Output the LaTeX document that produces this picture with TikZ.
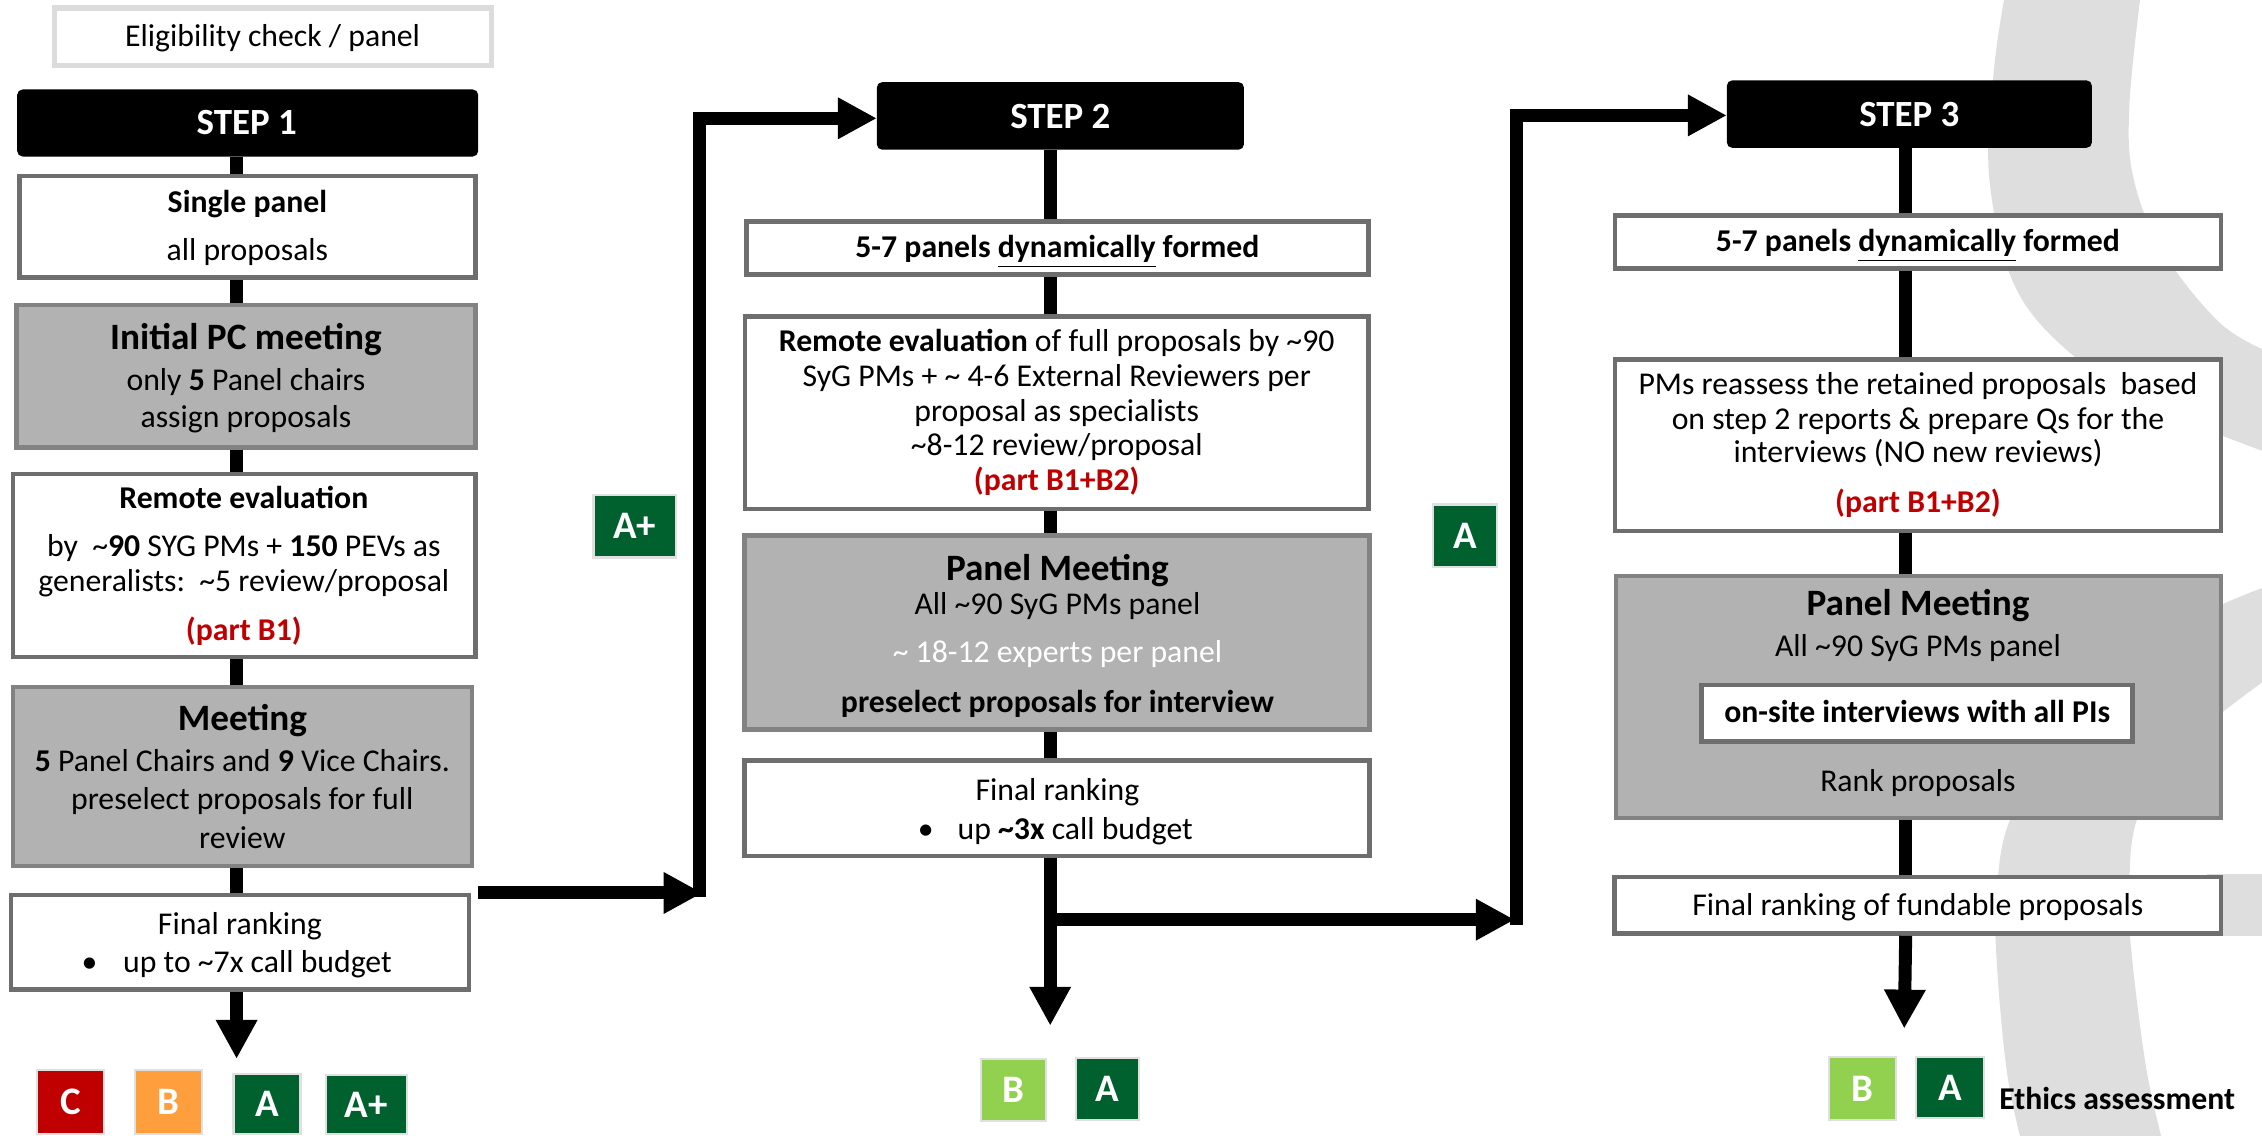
\documentclass[tikz,border=0pt]{standalone}
\usepackage{fontspec}
\setmainfont{Carlito}
\usetikzlibrary{arrows.meta}
\definecolor{boxline}{HTML}{6E6E6E}
\definecolor{grayfill}{HTML}{B2B2B2}
\definecolor{grayline}{HTML}{828282}
\definecolor{eligline}{HTML}{DCDCDC}
\definecolor{gred}{HTML}{C00000}
\definecolor{gorange}{HTML}{FF9E3D}
\definecolor{gdark}{HTML}{00612E}
\definecolor{glight}{HTML}{92D050}
\definecolor{arcgray}{HTML}{DEDEDE}
\definecolor{partred}{HTML}{C00000}
\newcommand\tld{\textasciitilde}
\newcommand\bodyfont{\fontsize{11}{13}\selectfont}
\newcommand\titlefont{\fontsize{12.9}{15}\selectfont\bfseries}
\newcommand\stepfont{\fontsize{12.8}{15}\selectfont\bfseries}
\newcommand\gradefont{\fontsize{13.5}{15}\selectfont\bfseries}
\newcommand\mkbox[6]{\node[#6, minimum width={((#4)-(#2)-3)*0.5pt}, minimum height={((#5)-(#3)-3)*0.5pt}] (#1) at ({((#2)+(#4))/2},{((#3)+(#5))/2}) {};}
\newcommand\mkgrade[7]{\node[grade, fill=#6, minimum width={((#4)-(#2)-1.6)*0.5pt}, minimum height={((#5)-(#3)-1.6)*0.5pt}] (#1) at ({((#2)+(#4))/2},{((#3)+(#5))/2}) {#7};}
\begin{document}
\begin{tikzpicture}[x=0.5pt,y=-0.5pt,
  wbox/.style={rectangle, draw=boxline, line width=1.6pt, fill=white, inner sep=0pt},
  gbox/.style={rectangle, draw=grayline, line width=1.6pt, fill=grayfill, inner sep=0pt},
  stepbox/.style={rectangle, fill=black, draw=black, line width=1pt, rounded corners=1.5pt, inner sep=0pt},
  eligbox/.style={rectangle, draw=eligline, line width=1.8pt, fill=white, inner sep=0pt},
  grade/.style={rectangle, draw=black!12, line width=0.8pt, text=white, font=\gradefont, inner sep=0pt},
  txt/.style={anchor=base, inner sep=0pt, font=\bodyfont},
  ttl/.style={anchor=base, inner sep=0pt, font=\titlefont},
  steptxt/.style={anchor=base, inner sep=0pt, font=\stepfont, text=white},
  conn/.style={line width=4.5pt, draw=black, line join=miter},
  arr/.style={conn, -{Triangle[length=13.5pt,width=13.5pt]}}
]
\useasboundingbox (0,0) rectangle (1568,787);

% ---------- background arcs ----------
\fill[arcgray] plot[smooth, tension=0.6] coordinates {(1390,-5) (1382,50) (1379,124) (1397,199) (1439,248) (1500,285) (1575,315)}
  -- plot[smooth, tension=0.6] coordinates {(1575,245) (1539,224) (1499,174) (1479,124) (1476,74) (1484,-5)} -- cycle;
\fill[arcgray] plot[smooth, tension=0.6] coordinates {(1575,405) (1530,424) (1475,458) (1428,508) (1393,569) (1384,620) (1384,665) (1391,742) (1402,795)}
  -- plot[smooth, tension=0.6] coordinates {(1500,795) (1488,742) (1478,665) (1476,624) (1481,569) (1510,520) (1575,468)} -- cycle;
\fill[arcgray] (1530,606) rectangle (1575,649);

% ---------- coordinates for connector columns ----------
\coordinate (c1) at (164,0);
\coordinate (c2) at (728,0);
\coordinate (c3) at (1321,0);

% ---------- STEP 1 ----------
\mkbox{elig}{36}{4}{342}{47}{eligbox}
\node[txt] (t-elig) at (189,32.5) {Eligibility check / panel};

\mkbox{s1}{11.4}{61.5}{332}{109}{stepbox}
\node[steptxt] (t-s1) at (171,93.5) {STEP 1};

\mkbox{sp}{12}{120.5}{331}{194}{wbox}
\node[txt] (t-sp1) at (171.5,147) {\textbf{Single panel}};
\node[txt] (t-sp2) at (171.5,180.5) {all proposals};

\mkbox{ipc}{10}{210}{331}{311.6}{gbox}
\node[ttl] (t-ipc1) at (170.5,242.3) {Initial PC meeting};
\node[txt] (t-ipc2) at (170.5,270.6) {only \textbf{5} Panel chairs};
\node[txt] (t-ipc3) at (170.5,296.6) {assign proposals};

\mkbox{re1}{7.4}{327}{331}{457}{wbox}
\node[txt] (t-re1a) at (169,352.6) {\textbf{Remote evaluation}};
\node[txt] (t-re1b) at (169,386) {by\ \ \tld\textbf{90} SYG PMs + \textbf{150} PEVs as};
\node[txt] (t-re1c) at (169,410) {generalists:\ \ \tld5 review/proposal};
\node[txt] (t-re1d) at (169,444.3) {\textcolor{partred}{\textbf{(part B1)}}};

\mkbox{mt1}{7.4}{474.6}{328.6}{601.7}{gbox}
\node[ttl] (t-mt1a) at (168,506.5) {Meeting};
\node[txt] (t-mt1b) at (168,534.6) {\textbf{5} Panel Chairs and \textbf{9} Vice Chairs.};
\node[txt] (t-mt1c) at (168,561.3) {preselect proposals for full};
\node[txt] (t-mt1d) at (168,588) {review};

\mkbox{fr1}{6}{619}{326.6}{687.6}{wbox}
\node[txt] (t-fr1a) at (166.3,647.6) {Final ranking};
\node[txt] (t-fr1b) at (62,674.4) {•};
\node[txt, anchor=base west] (t-fr1c) at (85,674.4) {up to \tld7x call budget};

\mkgrade{g1c}{25}{741}{73}{787}{gred}{C}
\mkgrade{g1b}{93}{741}{141}{787}{gorange}{B}
\mkgrade{g1a}{161}{743.5}{209}{787}{gdark}{A}
\mkgrade{g1ap}{225}{744.6}{283}{787}{gdark}{A+}

\draw[conn] (s1.south -| c1) -- (sp.north -| c1);
\draw[conn] (sp.south -| c1) -- (ipc.north -| c1);
\draw[conn] (ipc.south -| c1) -- (re1.north -| c1);
\draw[conn] (re1.south -| c1) -- (mt1.north -| c1);
\draw[conn] (mt1.south -| c1) -- (fr1.north -| c1);
\coordinate (g1tip) at (164,734);
\draw[arr] (fr1.south -| c1) -- (g1tip);

% ---------- link step 1 -> step 2 ----------
\coordinate (h1s) at (331,619);
\coordinate (h1e) at (487,619);
\coordinate (v1b) at (485,622);
\coordinate (v1t) at (485,82);
\draw[arr] (h1s) -- (h1e);
\mkgrade{lap}{410.6}{342.4}{469.4}{387.2}{gdark}{A+}

% ---------- STEP 2 ----------
\mkbox{s2}{607.3}{56.4}{862.8}{104.3}{stepbox}
\node[steptxt] (t-s2) at (735,89) {STEP 2};
\draw[arr] (v1b) -- (v1t) -- (s2.west |- v1t);

\mkbox{dp2}{516}{152.2}{950}{191.9}{wbox}
\node[txt] (t-dp2) at (733,178.2) {\textbf{5-7 panels \underline{dynamically} formed}};

\mkbox{re2}{515}{218}{950}{354.2}{wbox}
\node[txt] (t-re2a) at (732.5,243.6) {\textbf{Remote evaluation} of full proposals by \tld90};
\node[txt] (t-re2b) at (732.5,268) {SyG PMs + \tld{} 4-6 External Reviewers per};
\node[txt] (t-re2c) at (732.5,292) {proposal as specialists};
\node[txt] (t-re2d) at (732.5,315.6) {\tld8-12 review/proposal};
\node[txt] (t-re2e) at (732.5,340.3) {\textcolor{partred}{\textbf{(part B1+B2)}}};

\mkbox{pm2}{514.4}{369.5}{951}{507.3}{gbox}
\node[ttl] (t-pm2a) at (733,402.2) {Panel Meeting};
\node[txt] (t-pm2b) at (733,426.3) {All \tld90 SyG PMs panel};
\node[txt, text=white] (t-pm2c) at (733,459.5) {\tld{} 18-12 experts per panel};
\node[txt] (t-pm2d) at (733,493.6) {\textbf{preselect proposals for interview}};

\mkbox{fr2}{514.4}{525.7}{951}{594.8}{wbox}
\node[txt] (t-fr2a) at (733,554.6) {Final ranking};
\node[txt] (t-fr2b) at (641.7,581.8) {•};
\node[txt, anchor=base west] (t-fr2c) at (663.4,581.8) {up \textbf{\tld3x} call budget};

\draw[conn] (s2.south -| c2) -- (dp2.north -| c2);
\draw[conn] (dp2.south -| c2) -- (re2.north -| c2);
\draw[conn] (re2.south -| c2) -- (pm2.north -| c2);
\draw[conn] (pm2.south -| c2) -- (fr2.north -| c2);
\coordinate (g2tip) at (728,711);
\draw[arr] (fr2.south -| c2) -- (g2tip);

\mkgrade{g2b}{679}{733.4}{726}{777.8}{glight}{B}
\mkgrade{g2a}{745}{732.4}{790.5}{777}{gdark}{A}

% ---------- link step 2 -> step 3 ----------
\coordinate (h2s) at (728,637.5);
\coordinate (h2e) at (1050,637.5);
\coordinate (v2b) at (1051,641);
\coordinate (v2t) at (1051,80);
\draw[arr] (h2s) -- (h2e);
\mkgrade{la}{992.7}{349}{1038.4}{393.6}{gdark}{A}

% ---------- STEP 3 ----------
\mkbox{s3}{1196.5}{55.2}{1450.6}{103}{stepbox}
\node[steptxt] (t-s3) at (1323.5,87.5) {STEP 3};
\draw[arr] (v2b) -- (v2t) -- (s3.west |- v2t);

\mkbox{dp3}{1118}{148}{1541}{187.7}{wbox}
\node[txt] (t-dp3) at (1329.5,174.4) {\textbf{5-7 panels \underline{dynamically} formed}};

\mkbox{pr3}{1118}{247.8}{1541}{369.6}{wbox}
\node[txt] (t-pr3a) at (1329.5,273.5) {PMs reassess the retained proposals\ \ based};
\node[txt] (t-pr3b) at (1329.5,297.6) {on step 2 reports \& prepare Qs for the};
\node[txt] (t-pr3c) at (1329.5,320.5) {interviews (NO new reviews)};
\node[txt] (t-pr3d) at (1329.5,355.2) {\textcolor{partred}{\textbf{(part B1+B2)}}};

\mkbox{pm3}{1118.6}{397.7}{1541}{568.4}{gbox}
\node[ttl] (t-pm3a) at (1329.5,426.6) {Panel Meeting};
\node[txt] (t-pm3b) at (1329.5,455.4) {All \tld90 SyG PMs panel};
\mkbox{iv3}{1178}{473.2}{1479.6}{515.4}{wbox}
\node[txt] (t-iv3) at (1329,501.1) {\textbf{on-site interviews with all PIs}};
\node[txt] (t-pm3c) at (1329.5,548.6) {Rank proposals};

\mkbox{fr3}{1117.6}{606.5}{1541}{648.6}{wbox}
\node[txt] (t-fr3) at (1329.5,634.8) {Final ranking of fundable proposals};

\draw[conn] (s3.south -| c3) -- (dp3.north -| c3);
\draw[conn] (dp3.south -| c3) -- (pr3.north -| c3);
\draw[conn] (pr3.south -| c3) -- (pm3.north -| c3);
\draw[conn] (pm3.south -| c3) -- (fr3.north -| c3);
\coordinate (g3tip) at (1320,713);
\draw[arr] (fr3.south -| c3) -- (g3tip);

\mkgrade{g3b}{1267}{732}{1315}{777}{glight}{B}
\mkgrade{g3a}{1327.5}{731.8}{1376}{776}{gdark}{A}
\node[txt, anchor=base west] (t-eth) at (1385.5,768.8) {\textbf{Ethics assessment}};
\end{tikzpicture}
\end{document}
